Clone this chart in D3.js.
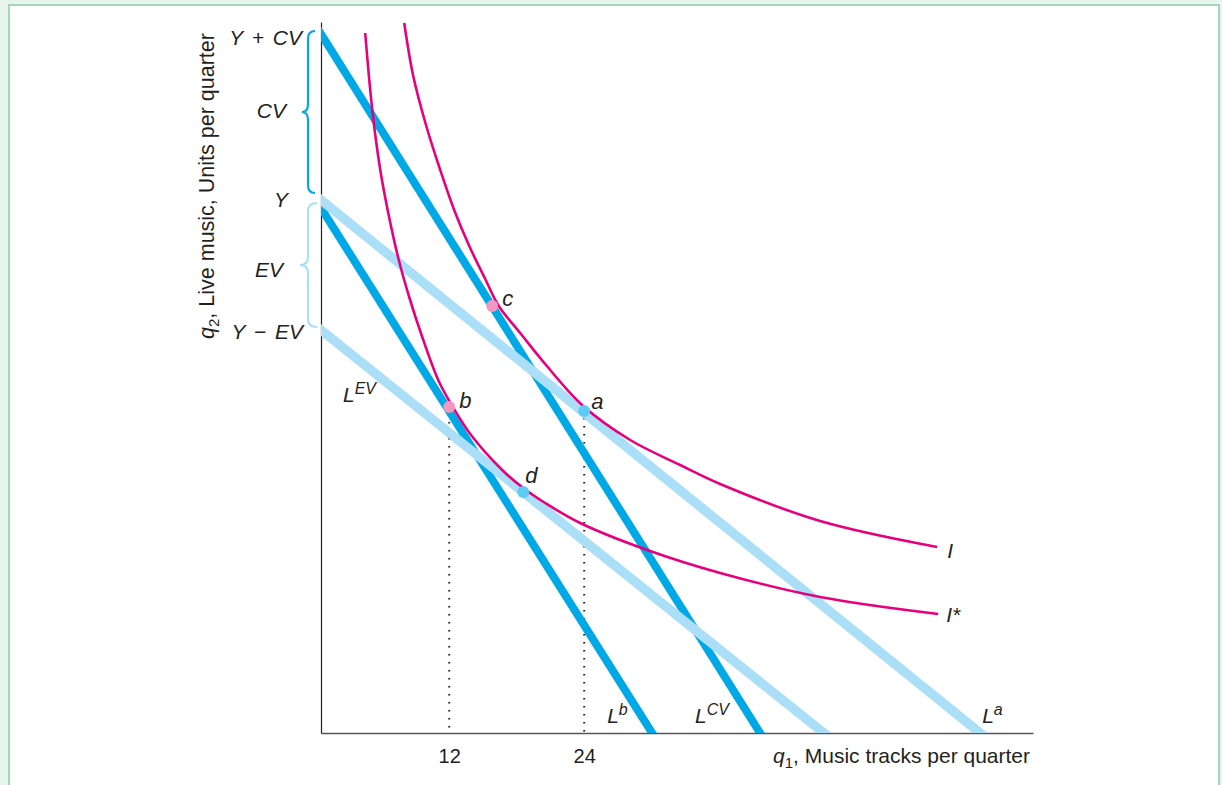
<!DOCTYPE html>
<html>
<head>
<meta charset="utf-8">
<script src="https://cdn.jsdelivr.net/npm/d3@7"></script>
<style>
  html, body { margin: 0; padding: 0; background: #e8f4ee; }
  svg { display: block; }
  text { font-family: "Liberation Sans", Arial, Helvetica, sans-serif; fill: #231f20; }
</style>
</head>
<body>
<svg id="chart" width="1222" height="785"></svg>
<script>
// ---------------- data ----------------
const xTickValues = [12, 24];
const xTitle = "Music tracks per quarter";
const yTitle = "Live music, Units per quarter";

// budget lines: q2 value at the vertical axis and q1 value at the horizontal axis
const budgetNames = ["CV", "b", "a", "EV"];
const budgetQ2AtAxis = [69.9, 52.5, 53.3, 40.3];
const budgetQ1AtAxis = [39.64, 30.04, 59.2, 45.3];
const budgetShade = ["dark", "dark", "light", "light"];

// indifference curve I
const curveIq1 = [8.00, 8.80, 9.96, 11.20, 12.44, 13.78, 15.20, 16.40, 18.31, 20.53, 23.91, 28.09, 32.53, 36.09, 44.98, 55.38];
const curveIq2 = [71.0, 65.7, 60.7, 56.3, 52.3, 48.7, 45.4, 42.7, 40.0, 36.9, 32.7, 29.3, 26.8, 24.9, 21.2, 18.6];
// indifference curve I*
const curveIsq1 = [4.53, 5.16, 5.87, 6.58, 7.47, 8.44, 9.51, 11.02, 12.27, 13.87, 16.80, 18.58, 20.53, 23.64, 29.60, 36.09, 44.98, 55.47];
const curveIsq2 = [70.0, 62.3, 56.3, 52.0, 47.5, 43.6, 39.9, 35.3, 32.7, 29.9, 26.2, 24.5, 23.0, 21.0, 18.3, 16.0, 13.6, 11.9];

// labelled points
const pointNames = ["c", "b", "a", "d"];
const pointQ1 = [15.82, 12.0, 24.0, 18.58];
const pointQ2 = [42.7, 32.6, 32.2, 24.1];

// vertical-axis quantities
const yLevelNames = ["Y + CV", "CV", "Y", "EV", "Y \u2212 EV"];
const yLevelValues = [69.6, 62.3, 53.4, 46.4, 40.2];
const braceNames = ["CV", "EV"];
const braceLow = [54.0, 40.6];
const braceHigh = [70.2, 53.0];

// ---------------- layout / styles ----------------
const C = {
  dark: "#00a9e6",
  light: "#abdff7",
  magenta: "#e6007e",
  pinkDot: "#f298c0",
  blueDot: "#5ecbf3",
  border: "#a6d5bf"
};

const svg = d3.select("#chart");
svg.append("rect").attr("x", 9).attr("y", 5).attr("width", 1210).attr("height", 800)
  .attr("fill", "#ffffff").attr("stroke", C.border).attr("stroke-width", 2);

const x = d3.scaleLinear().domain([0.6, 63.9]).range([321, 1033]);
const y = d3.scaleLinear().domain([0, 71.1]).range([733, 22]);

svg.append("defs").append("clipPath").attr("id", "plotclip")
  .append("rect").attr("x", x(0.6)).attr("y", 0).attr("width", 1033 - x(0.6)).attr("height", y(0));

// axes
const xAxis = d3.axisBottom(x).tickValues(xTickValues).tickSize(0).tickPadding(16).tickFormat(d3.format("d"));
const gx = svg.append("g").attr("transform", `translate(0,${y(0)})`).call(xAxis);
gx.select(".domain").attr("stroke", "#555").attr("stroke-width", 1.6);
gx.selectAll(".tick text").attr("font-size", 20).attr("fill", "#231f20")
  .attr("font-family", "Liberation Sans, Arial, sans-serif");

const yAxis = d3.axisLeft(y).tickValues([]).tickSize(0);
const gy = svg.append("g").attr("transform", `translate(${x(0.6)},0)`).call(yAxis);
gy.select(".domain").attr("stroke", "#231f20").attr("stroke-width", 1.2);

// dotted drop lines from b and a
const dropIdx = [1, 2];
svg.append("g").selectAll("line").data(dropIdx).join("line")
  .attr("x1", i => x(pointQ1[i])).attr("x2", i => x(pointQ1[i]))
  .attr("y1", i => y(pointQ2[i]) + 7).attr("y2", y(0) - 1)
  .attr("stroke", "#231f20").attr("stroke-width", 2)
  .attr("stroke-dasharray", "1.6,6.4");

// budget lines
const plot = svg.append("g").attr("clip-path", "url(#plotclip)");
function budgetSeg(i) {
  const a = budgetQ2AtAxis[i], b = budgetQ1AtAxis[i];
  const x0 = 0.6;
  const slope = -a / (b - x0);
  const xs = x0 - 1.5, xe = b + 1.5;
  return [[xs, a + slope * (xs - x0)], [xe, a + slope * (xe - x0)]];
}
const order = [0, 1, 2, 3];
plot.selectAll("line.budget").data(order).join("line")
  .attr("class", "budget")
  .attr("x1", i => x(budgetSeg(i)[0][0])).attr("y1", i => y(budgetSeg(i)[0][1]))
  .attr("x2", i => x(budgetSeg(i)[1][0])).attr("y2", i => y(budgetSeg(i)[1][1]))
  .attr("stroke", i => budgetShade[i] === "dark" ? C.dark : C.light)
  .attr("stroke-width", i => budgetShade[i] === "dark" ? 8 : 9.5);

// indifference curves
const lineGen = d3.line().x(d => x(d[0])).y(d => y(d[1])).curve(d3.curveCatmullRom.alpha(0.5));
const curves = [
  { name: "I", pts: d3.zip(curveIq1, curveIq2) },
  { name: "I*", pts: d3.zip(curveIsq1, curveIsq2) }
];
svg.append("g").selectAll("path").data(curves).join("path")
  .attr("d", d => lineGen(d.pts))
  .attr("fill", "none").attr("stroke", C.magenta).attr("stroke-width", 2.6);

// points
svg.append("g").selectAll("circle").data(order).join("circle")
  .attr("cx", i => x(pointQ1[i])).attr("cy", i => y(pointQ2[i])).attr("r", 6)
  .attr("fill", i => (pointNames[i] === "c" || pointNames[i] === "b") ? C.pinkDot : C.blueDot);

// point labels
const pointLabelOffset = { c: [10, 0], b: [10, 1], a: [7, -2], d: [2, -9] };
svg.append("g").selectAll("text").data(order).join("text")
  .attr("x", i => x(pointQ1[i]) + pointLabelOffset[pointNames[i]][0])
  .attr("y", i => y(pointQ2[i]) + pointLabelOffset[pointNames[i]][1])
  .attr("font-size", 22).attr("font-style", "italic")
  .text(i => pointNames[i]);

// curve labels
const curveLabelOffset = { "I": [10, 11], "I*": [8, 8] };
svg.append("g").selectAll("text").data(curves).join("text")
  .attr("x", d => x(d.pts[d.pts.length - 1][0]) + curveLabelOffset[d.name][0])
  .attr("y", d => y(d.pts[d.pts.length - 1][1]) + curveLabelOffset[d.name][1])
  .attr("font-size", 21).attr("font-style", "italic")
  .text(d => d.name);

// budget line labels (L with superscript)
const budgetLabelPos = {
  CV: i => [x(budgetQ1AtAxis[i]) - 65, y(0) - 10],
  b: i => [x(budgetQ1AtAxis[i]) - 45, y(0) - 10],
  a: i => [x(budgetQ1AtAxis[i]) + 2, y(0) - 10],
  EV: i => [x(0.6) + 22, y(budgetQ2AtAxis[i]) + 72]
};
order.forEach(i => {
  const p = budgetLabelPos[budgetNames[i]](i);
  const t = svg.append("text").attr("x", p[0]).attr("y", p[1])
    .attr("font-size", 21).attr("font-style", "italic");
  t.append("tspan").text("L");
  t.append("tspan").attr("dy", -8).attr("font-size", 16).text(budgetNames[i]);
});

// vertical-axis level labels
const yLabelRight = [302, 286, 288, 283, 303];
svg.append("g").selectAll("text").data(yLevelNames).join("text")
  .attr("x", (d, i) => yLabelRight[i]).attr("y", (d, i) => y(yLevelValues[i]))
  .attr("dy", "0.36em").attr("text-anchor", "end")
  .attr("font-size", 21).attr("font-style", "italic").attr("word-spacing", 3)
  .text(d => d);

// braces
function bracePath(y0, y1, xEnd, xSpine, xTip) {
  const ym = (y0 + y1) / 2, r = 8;
  return `M${xEnd},${y0} Q${xSpine},${y0} ${xSpine},${y0 + r} L${xSpine},${ym - r} ` +
    `Q${xSpine},${ym} ${xTip},${ym} Q${xSpine},${ym} ${xSpine},${ym + r} ` +
    `L${xSpine},${y1 - r} Q${xSpine},${y1} ${xEnd},${y1}`;
}
const braceGeom = { CV: [315, 308, 302, C.dark], EV: [317, 308, 300, C.light] };
braceNames.forEach((n, i) => {
  const g = braceGeom[n];
  svg.append("path")
    .attr("d", bracePath(y(braceHigh[i]), y(braceLow[i]), g[0], g[1], g[2]))
    .attr("fill", "none").attr("stroke", g[3]).attr("stroke-width", 2.2);
});

// axis titles
const xt = svg.append("text").attr("x", 1030).attr("y", 763).attr("text-anchor", "end").attr("font-size", 21);
xt.append("tspan").attr("font-style", "italic").text("q");
xt.append("tspan").attr("dy", 5).attr("font-size", 15).text("1");
xt.append("tspan").attr("dy", -5).text(", " + xTitle);

const yt = svg.append("text").attr("transform", "translate(214,186) rotate(-90)")
  .attr("text-anchor", "middle").attr("font-size", 21.5);
yt.append("tspan").attr("font-style", "italic").text("q");
yt.append("tspan").attr("dy", 5).attr("font-size", 15).text("2");
yt.append("tspan").attr("dy", -5).text(", " + yTitle);
</script>
</body>
</html>
